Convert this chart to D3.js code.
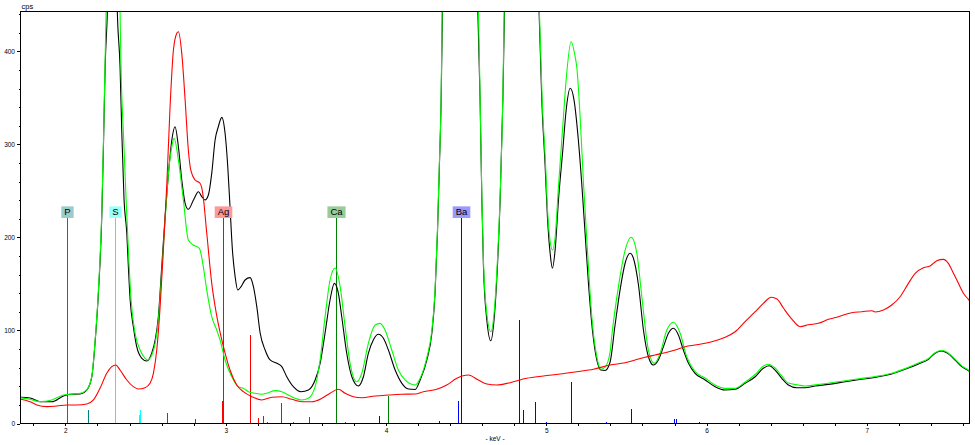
<!DOCTYPE html>
<html><head><meta charset="utf-8">
<script src="https://cdn.jsdelivr.net/npm/d3@7"></script>
<style>body{margin:0;background:#fff}svg{display:block}</style>
</head><body><svg id="c" width="975" height="445"></svg>
<script>
// ---- data (keV, cps) ----
const spectrumBlack = [[1.717,28.2],[1.780,27.4],[1.842,23.4],[1.915,23.4],[1.988,29.6],[2.029,31.4],[2.092,31.7],[2.134,36.0],[2.165,50.3],[2.185,86.6],[2.206,140.3],[2.227,222.4],[2.237,294.1],[2.248,383.6],[2.262,442.8],[2.275,539],[2.293,575],[2.312,539],[2.324,442.8],[2.341,383.6],[2.352,312.3],[2.366,240.3],[2.383,204.8],[2.393,168.3],[2.404,132.8],[2.424,104.1],[2.445,82.6],[2.477,70.1],[2.508,67.2],[2.539,75.8],[2.560,89.8],[2.580,114.8],[2.601,168.6],[2.622,222.4],[2.643,269.0],[2.664,304.8],[2.684,319.1],[2.705,297.6],[2.726,261.8],[2.747,236.8],[2.767,230.3],[2.799,240.3],[2.830,249.2],[2.851,243.9],[2.871,240.3],[2.892,245.7],[2.913,269.0],[2.934,304.8],[2.954,319.1],[2.976,329.2],[2.996,312.3],[3.013,276.1],[3.027,233.1],[3.042,186.5],[3.059,157.8],[3.075,143.5],[3.096,147.1],[3.121,154.3],[3.152,156.8],[3.173,147.1],[3.194,125.6],[3.215,97.3],[3.246,79.0],[3.277,68.3],[3.319,64.7],[3.350,61.1],[3.381,50.3],[3.422,39.6],[3.470,34.2],[3.516,36.0],[3.558,46.8],[3.589,64.7],[3.620,97.3],[3.651,132.8],[3.678,150.7],[3.703,140.0],[3.724,114.8],[3.755,75.5],[3.787,50.3],[3.828,40.3],[3.859,50.3],[3.890,75.5],[3.921,89.8],[3.953,95.9],[3.984,91.6],[4.015,79.0],[4.057,57.5],[4.099,43.2],[4.140,37.1],[4.182,36.6],[4.213,46.8],[4.255,68.3],[4.286,97.0],[4.306,140.0],[4.321,204.5],[4.333,276.1],[4.344,347.8],[4.352,442.8],[4.383,746],[4.417,1079],[4.462,1295],[4.508,1079],[4.541,746],[4.573,442.8],[4.587,347.8],[4.598,240.3],[4.608,168.6],[4.629,111.3],[4.654,89.0],[4.674,111.3],[4.695,168.6],[4.712,240.3],[4.729,347.8],[4.739,442.8],[4.770,739],[4.802,1095],[4.847,1330],[4.893,1095],[4.924,739],[4.955,442.8],[4.972,347.8],[4.993,276.1],[5.007,222.4],[5.024,183.0],[5.038,166.9],[5.055,186.5],[5.076,240.3],[5.103,294.1],[5.124,337.1],[5.149,360.4],[5.173,347.8],[5.200,304.8],[5.221,258.3],[5.242,204.5],[5.263,150.7],[5.290,97.0],[5.315,68.3],[5.340,57.5],[5.367,57.0],[5.398,66.1],[5.429,105.9],[5.460,143.5],[5.492,172.6],[5.523,183.0],[5.543,178],[5.575,148.9],[5.606,100.5],[5.637,71.8],[5.668,62.9],[5.699,68.3],[5.731,82.6],[5.762,97.0],[5.793,102.4],[5.824,95.2],[5.855,79.0],[5.887,64.7],[5.928,54.0],[5.991,46.8],[6.053,39.6],[6.115,36.0],[6.178,36.8],[6.240,43.2],[6.303,50.3],[6.354,59.4],[6.390,62.1],[6.427,57.5],[6.469,48.6],[6.510,41.4],[6.563,38.5],[6.614,38.5],[6.677,40.3],[6.760,42.1],[6.864,44.9],[6.968,47.5],[7.072,50.3],[7.155,53.2],[7.238,58.3],[7.321,64.0],[7.384,69.0],[7.425,75.5],[7.467,78.0],[7.498,76.1],[7.550,68.3],[7.592,61.1],[7.633,56.8],[7.645,55.5]];

const spectrumGreen = [[1.717,27.7],[1.780,26.0],[1.842,23.5],[1.915,25.3],[1.988,30.6],[2.029,31.4],[2.092,32.5],[2.134,36.5],[2.165,51],[2.185,88],[2.206,143],[2.227,228],[2.237,300],[2.248,392],[2.254,442.8],[2.274,570],[2.298,620],[2.322,570],[2.341,442.8],[2.347,383.6],[2.362,312],[2.379,240],[2.393,186.5],[2.410,132.8],[2.435,97.0],[2.466,79.0],[2.497,70.1],[2.512,68.3],[2.539,73.7],[2.560,86.2],[2.580,111.3],[2.601,161.5],[2.622,218.8],[2.643,269],[2.664,297.6],[2.678,306.6],[2.705,283.3],[2.736,240.3],[2.767,197.3],[2.799,191.9],[2.836,188.4],[2.857,172.2],[2.882,143.5],[2.913,114.8],[2.944,100.5],[2.965,89.8],[2.996,68.3],[3.038,50.3],[3.079,39.6],[3.110,37.8],[3.142,34.2],[3.183,32.5],[3.225,31.4],[3.266,33.1],[3.308,35.3],[3.350,34.2],[3.391,30.6],[3.433,27.1],[3.475,25.3],[3.516,27.1],[3.558,39.6],[3.589,68.3],[3.620,114.8],[3.651,154.3],[3.683,167.2],[3.714,147.1],[3.745,104.1],[3.776,64.7],[3.818,44.9],[3.849,54.0],[3.890,86.2],[3.932,105.9],[3.963,107.7],[3.994,100.5],[4.036,79.0],[4.077,57.5],[4.119,46.8],[4.182,41.4],[4.213,48.6],[4.255,71],[4.286,100],[4.306,143],[4.321,208],[4.333,280],[4.344,352],[4.350,442.8],[4.383,760],[4.417,1090],[4.462,1310],[4.508,1090],[4.541,760],[4.577,442.8],[4.587,352],[4.598,245],[4.608,175],[4.629,118],[4.654,98.7],[4.674,118],[4.695,175],[4.712,245],[4.729,352],[4.737,442.8],[4.770,740],[4.802,1100],[4.847,1340],[4.893,1100],[4.924,740],[4.957,442.8],[4.974,350],[4.995,280],[5.009,226],[5.024,196],[5.038,186.5],[5.055,200],[5.076,255],[5.103,320],[5.124,370],[5.155,410.5],[5.180,394.4],[5.190,383.6],[5.211,329.9],[5.232,258.3],[5.253,197.3],[5.284,114.8],[5.315,71.8],[5.340,58.3],[5.367,60.7],[5.398,76.9],[5.408,93.3],[5.450,147.1],[5.492,186.5],[5.529,200.2],[5.565,183.0],[5.596,136.3],[5.637,79.0],[5.674,64.7],[5.710,75.5],[5.752,100.5],[5.793,108.8],[5.835,97.0],[5.876,71.8],[5.928,55.7],[5.991,48.9],[6.053,41.4],[6.115,37.8],[6.178,37.8],[6.240,44.6],[6.303,52.7],[6.354,61.8],[6.385,63.7],[6.427,59.7],[6.469,51.1],[6.510,43.5],[6.573,41.4],[6.614,40.3],[6.677,41.5],[6.760,43.3],[6.864,46],[6.968,48.5],[7.072,51],[7.155,54],[7.238,59],[7.321,65],[7.384,70],[7.425,76],[7.467,78.5],[7.498,77],[7.550,69],[7.592,62],[7.633,57.5],[7.645,56]];

const spectrumRed = [[1.717,26.3],[1.780,23.4],[1.822,19.9],[1.884,18.1],[1.946,18.8],[2.009,19.9],[2.071,19.9],[2.134,21.0],[2.175,25.3],[2.216,37.8],[2.258,54.0],[2.289,61.1],[2.314,62.9],[2.341,57.5],[2.383,46.8],[2.424,39.6],[2.455,37.1],[2.497,38.5],[2.528,43.2],[2.549,54.0],[2.570,79.0],[2.591,125.6],[2.611,186.5],[2.633,258.3],[2.653,340.6],[2.674,401.6],[2.695,419.5],[2.705,421.3],[2.726,398.0],[2.747,347.8],[2.767,294.1],[2.782,272.6],[2.809,261.8],[2.840,258.3],[2.857,247.5],[2.882,204.5],[2.913,150.7],[2.944,116],[2.986,82.6],[3.027,57.5],[3.069,41.4],[3.110,34.2],[3.163,28.8],[3.225,25.3],[3.288,28.2],[3.350,28.8],[3.412,26.0],[3.475,23.4],[3.537,23.4],[3.600,27.1],[3.651,32.5],[3.703,36.8],[3.745,32.5],[3.797,28.8],[3.849,27.7],[3.932,29.6],[4.015,30.6],[4.099,31.4],[4.182,31.7],[4.233,34.2],[4.317,36.8],[4.379,41.4],[4.442,48.6],[4.514,52.1],[4.576,46.8],[4.629,42.5],[4.691,41.4],[4.774,43.9],[4.878,48.6],[4.982,51.1],[5.086,53.2],[5.190,55.7],[5.294,58.3],[5.398,62.9],[5.492,65.4],[5.554,68.3],[5.616,71.2],[5.679,73.7],[5.741,76.1],[5.804,79.0],[5.866,82.6],[5.928,84.4],[5.991,86.2],[6.053,89.0],[6.115,92.7],[6.178,98.7],[6.240,109.5],[6.303,120.2],[6.354,129.2],[6.403,135.7],[6.439,133.9],[6.480,123.9],[6.533,112.0],[6.583,104.1],[6.635,106.2],[6.697,107.7],[6.760,112.0],[6.822,114.8],[6.906,119.1],[6.968,120.2],[7.031,121.3],[7.051,119.9],[7.103,122.0],[7.155,127.4],[7.207,136.3],[7.259,150.7],[7.301,161.5],[7.353,167.5],[7.394,169.3],[7.436,175.0],[7.477,176.5],[7.508,172.2],[7.540,161.5],[7.571,150.7],[7.602,140.0],[7.633,133.5],[7.645,131]];

// element markers
const elementNames = ["P", "S", "Ag", "Ca", "Ba"];
const elementKeV = [2.013, 2.307, 2.984, 3.691, 4.466];
const markerCps = 221;

// minor emission lines [keV, cps]
const linesP = [[2.139, 14]];
const linesS = [[2.458, 9], [2.464, 14]];
const linesAg = [[2.634, 11.6], [2.806, 5], [2.978, 24], [3.151, 95], [3.203, 6], [3.234, 8], [3.256, 2], [3.348, 22], [3.420, 2], [3.520, 7], [3.743, 2]];
const linesCa = [[3.688, 111], [4.013, 29.5]];
const linesBa = [[3.954, 8], [4.331, 3], [4.451, 24.5], [4.828, 111], [4.852, 14], [4.927, 23], [5.000, 2], [5.156, 44.5], [5.374, 2], [5.531, 15.5], [5.797, 4.5], [5.809, 4.5], [5.950, 2]];

// axis ticks
const xMinorTicks = d3.range(18, 77, 2).map(v => v / 10);
const xLabelTicks = [2, 3, 4, 5, 6, 7];
const yMinorTicks = d3.range(0, 441, 20);
const yLabelTicks = [0, 100, 200, 300, 400];

// ---- styles ----
const elementStyle = {
  P: {line: "#008080", box: "#99CCCC"},
  S: {line: "#00FFFF", box: "#99FFFF"},
  Ag: {line: "#FF0000", box: "#FF9999"},
  Ca: {line: "#008000", box: "#99CC99"},
  Ba: {line: "#0000FF", box: "#9999FF"}
};
const FONT = "'Liberation Sans', Arial, sans-serif";

const svg = d3.select("#c");
svg.append("rect").attr("width", 975).attr("height", 445).attr("fill", "#fff");

const x = d3.scaleLinear().domain([1.72, 7.64]).range([20.5, 969.5]);
const y = d3.scaleLinear().domain([0, 443]).range([423.5, 11.5]);

svg.append("defs").append("clipPath").attr("id", "clip")
  .append("rect").attr("x", 21).attr("y", 12).attr("width", 948).attr("height", 411.5);

const plot = svg.append("g").attr("clip-path", "url(#clip)");

// minor lines
const minorGroups = [["P", linesP], ["S", linesS], ["Ag", linesAg], ["Ca", linesCa], ["Ba", linesBa]];
minorGroups.forEach(([el, arr]) => {
  plot.selectAll(null).data(arr).enter().append("line")
    .attr("x1", d => Math.round(x(d[0])) + 0.5).attr("x2", d => Math.round(x(d[0])) + 0.5)
    .attr("y1", y(0)).attr("y2", d => y(d[1]))
    .attr("stroke", elementStyle[el].line).attr("stroke-width", 1)
    .attr("shape-rendering", "crispEdges");
});

// main marker lines
elementNames.forEach((el, i) => {
  const px = Math.round(x(elementKeV[i])) + 0.5;
  plot.append("line").attr("x1", px).attr("x2", px)
    .attr("y1", y(0)).attr("y2", y(markerCps))
    .attr("stroke", elementStyle[el].line).attr("stroke-width", 1)
    .attr("shape-rendering", "crispEdges");
});

// spectra
const line = d3.line().x(d => x(d[0])).y(d => y(d[1])).curve(d3.curveMonotoneX);
[[spectrumBlack, "#000000"], [spectrumGreen, "#00FF00"], [spectrumRed, "#FF0000"]].forEach(([data, col]) => {
  plot.append("path").datum(data).attr("d", line)
    .attr("fill", "none").attr("stroke", col).attr("stroke-width", 1.1);
});

// label boxes
elementNames.forEach((el, i) => {
  const px = Math.round(x(elementKeV[i])) + 0.5;
  const g = svg.append("g");
  const t = g.append("text").attr("x", px).attr("y", y(markerCps) - 2.5)
    .attr("text-anchor", "middle").attr("font-family", FONT).attr("font-size", 9.5)
    .attr("fill", "#000").text(el);
  const w = t.node().getComputedTextLength() + 6;
  g.insert("rect", "text").attr("x", px - w / 2).attr("y", y(markerCps) - 11.6)
    .attr("width", w).attr("height", 11.6).attr("fill", elementStyle[el].box);
});

// frame (top, right)
svg.append("line").attr("x1", 20).attr("x2", 970).attr("y1", 11.5).attr("y2", 11.5)
  .attr("stroke", "#000").attr("shape-rendering", "crispEdges");
svg.append("line").attr("x1", 969.5).attr("x2", 969.5).attr("y1", 11.5).attr("y2", 424)
  .attr("stroke", "#000").attr("shape-rendering", "crispEdges");

// axes
const xAxisMinor = d3.axisBottom(x).tickValues(xMinorTicks).tickSize(3).tickSizeOuter(0).tickFormat("");
const xAxisLab = d3.axisBottom(x).tickValues(xLabelTicks).tickSize(3).tickSizeOuter(0).tickPadding(2).tickFormat(d3.format("d"));
const gx1 = svg.append("g").attr("transform", "translate(0,423)").call(xAxisMinor);
const gx2 = svg.append("g").attr("transform", "translate(0,423)").call(xAxisLab);
gx2.select(".domain").remove();

const yAxisMinor = d3.axisLeft(y).tickValues(yMinorTicks).tickSize(1.5).tickSizeOuter(0).tickFormat("");
const yAxisLab = d3.axisLeft(y).tickValues(yLabelTicks).tickSize(3).tickSizeOuter(0).tickPadding(2).tickFormat(d3.format("d"));
const gy1 = svg.append("g").attr("transform", "translate(20,0)").call(yAxisMinor);
const gy2 = svg.append("g").attr("transform", "translate(20,0)").call(yAxisLab);
gy2.select(".domain").remove();
gy1.select(".domain").attr("d", `M0.5,11.5V423.5`);

svg.selectAll(".tick text").attr("font-family", FONT).attr("font-size", 6.5).attr("fill", "#000");
svg.selectAll(".tick line, .domain").attr("stroke", "#000").attr("shape-rendering", "crispEdges");

// axis titles
svg.append("text").attr("x", 21.5).attr("y", 9).attr("font-family", FONT).attr("font-size", 7.5)
  .attr("fill", "#000").text("cps");
svg.append("text").attr("x", 495).attr("y", 441).attr("text-anchor", "middle")
  .attr("font-family", FONT).attr("font-size", 6.5).attr("fill", "#000").text("- keV -");
</script>
</body></html>
